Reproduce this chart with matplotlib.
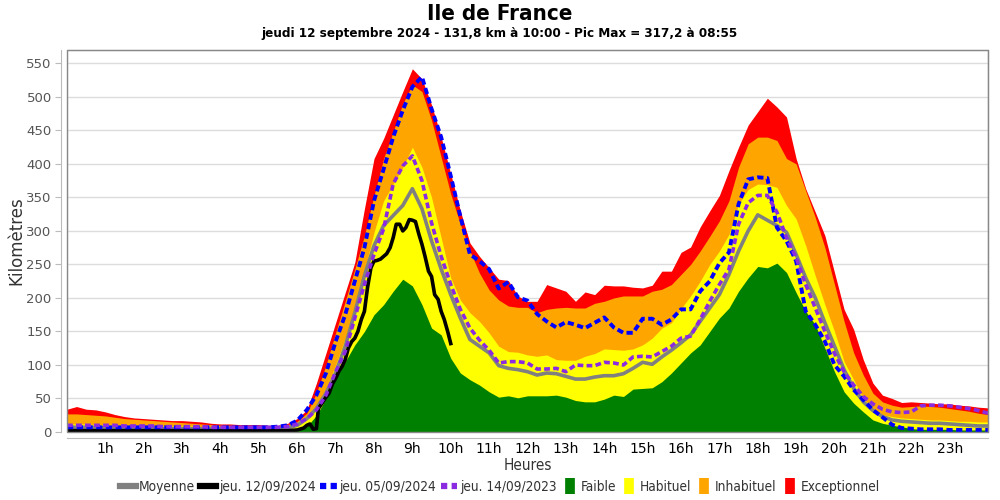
import numpy as np
import matplotlib
matplotlib.use("Agg")
import matplotlib.pyplot as plt
from matplotlib.lines import Line2D
from matplotlib.patches import Rectangle

# quart d'heure de 0h a 24h (97 points)
heures = np.arange(0, 24.25, 0.25)

exceptionnel = [34, 38, 34, 33, 30, 26, 23, 21, 20, 19, 18, 17, 17, 16, 15, 13, 12, 12, 11, 11, 11, 10, 10, 13,
                20, 33, 73, 118, 163, 208, 253, 333, 408, 438, 473, 508, 542, 527, 488, 440, 385, 330, 282, 262, 245, 228, 226, 203,
                195, 195, 220, 215, 210, 195, 209, 205, 219, 218, 218, 216, 215, 219, 240, 240, 268, 276, 306, 330, 353, 390, 425, 458,
                478, 498, 485, 470, 408, 363, 328, 293, 238, 183, 153, 108, 73, 55, 50, 44, 45, 44, 43, 42, 42, 40, 39, 37, 36]
inhabituel = [27, 27, 26, 25, 24, 22, 20, 19, 18, 17, 16, 15, 14, 13, 12, 11, 10, 10, 9, 9, 9, 9, 9, 11,
              16, 28, 58, 100, 148, 195, 243, 293, 353, 408, 448, 490, 518, 508, 465, 410, 355, 310, 270, 237, 212, 197, 188, 186,
              186, 178, 183, 185, 186, 185, 185, 192, 195, 200, 203, 203, 203, 210, 213, 220, 235, 250, 270, 292, 315, 345, 395, 430,
              440, 440, 435, 408, 400, 360, 320, 275, 220, 165, 118, 85, 58, 45, 40, 37, 38, 39, 38, 37, 35, 33, 31, 28, 26]
habituel = [12, 12, 12, 11, 11, 11, 10, 10, 10, 10, 9, 9, 9, 9, 8, 8, 8, 8, 7, 7, 7, 7, 7, 9,
            14, 25, 40, 65, 100, 140, 185, 240, 298, 345, 370, 395, 425, 395, 350, 290, 230, 197, 178, 165, 148, 128, 120, 119,
            115, 113, 115, 108, 107, 107, 113, 117, 124, 123, 122, 124, 130, 140, 155, 163, 184, 203, 225, 250, 270, 295, 340, 362,
            370, 369, 365, 338, 318, 278, 233, 190, 150, 105, 78, 50, 35, 26, 23, 21, 20, 19, 18, 18, 17, 16, 16, 15, 15]
faible = [4, 4, 4, 4, 4, 4, 4, 4, 3, 3, 3, 3, 3, 3, 3, 3, 3, 3, 3, 3, 3, 3, 3, 3,
          3, 8, 25, 50, 80, 105, 130, 150, 175, 190, 210, 228, 218, 190, 155, 145, 110, 88, 78, 70, 60, 52, 54, 51,
          54, 54, 54, 55, 52, 47, 45, 45, 49, 55, 53, 64, 65, 66, 75, 88, 103, 118, 130, 150, 170, 185, 210, 230,
          247, 245, 252, 238, 208, 180, 160, 125, 90, 60, 43, 30, 18, 13, 10, 8, 5, 4, 4, 4, 4, 3, 3, 3, 3]

moyenne = [7, 7, 7, 7, 6, 6, 6, 6, 6, 6, 5, 5, 5, 5, 5, 5, 5, 5, 5, 5, 5, 5, 5, 6,
           10, 20, 35, 58, 88, 128, 178, 233, 278, 308, 323, 338, 363, 333, 285, 243, 205, 170, 138, 128, 118, 99, 95, 93,
           90, 85, 88, 87, 83, 79, 79, 82, 84, 84, 87, 95, 104, 101, 112, 122, 133, 145, 165, 185, 205, 235, 270, 300,
           324, 316, 308, 298, 265, 230, 200, 163, 128, 93, 65, 45, 32, 23, 18, 16, 15, 14, 13, 13, 12, 11, 10, 9, 9]
jeu_05_09_2024 = [7, 7, 7, 7, 7, 7, 7, 7, 7, 7, 7, 7, 7, 7, 7, 7, 7, 7, 7, 7, 7, 7, 8, 10,
                  17, 33, 55, 88, 135, 175, 225, 275, 345, 392, 440, 480, 515, 530, 482, 440, 382, 322, 265, 255, 243, 214, 224, 201,
                  196, 176, 165, 156, 164, 160, 155, 163, 171, 156, 148, 148, 169, 169, 160, 168, 183, 183, 210, 225, 252, 268, 340, 377,
                  380, 379, 305, 285, 255, 180, 160, 135, 100, 83, 63, 48, 33, 22, 11, 6, 5, 4, 4, 4, 3, 3, 3, 3, 3]
jeu_14_09_2023 = [10, 10, 10, 10, 10, 10, 9, 9, 9, 9, 8, 8, 8, 8, 8, 7, 7, 7, 7, 7, 7, 7, 7, 8,
                  12, 20, 33, 55, 90, 120, 170, 220, 265, 303, 370, 397, 412, 375, 312, 262, 220, 183, 155, 137, 122, 103, 105, 105,
                  103, 94, 94, 95, 90, 100, 99, 99, 104, 103, 100, 112, 113, 112, 120, 128, 140, 143, 168, 195, 220, 243, 310, 342,
                  353, 353, 328, 290, 260, 220, 185, 150, 117, 90, 70, 53, 42, 34, 30, 29, 30, 39, 40, 40, 39, 37, 35, 32, 28]

# journee en cours (jusqu'a 10h)
heures_jour = [0, 1, 2, 3, 4, 5, 5.5, 5.75, 6.0, 6.17, 6.25, 6.33, 6.42, 6.5, 6.55, 6.67, 6.75, 6.83, 6.92,
               7.0, 7.08, 7.17, 7.25, 7.33, 7.42, 7.5, 7.58, 7.67, 7.75, 7.83, 7.92, 8.0, 8.08, 8.17, 8.25,
               8.33, 8.42, 8.5, 8.58, 8.67, 8.75, 8.83, 8.92, 9.0, 9.08, 9.17, 9.25, 9.33, 9.42, 9.5, 9.58,
               9.67, 9.75, 9.83, 9.92, 10.0]
jeu_12_09_2024 = [2, 2, 2, 2, 2, 2, 2, 2, 3, 6, 10, 12, 4, 5, 35, 45, 52, 58, 72,
                  80, 90, 98, 108, 125, 135, 140, 150, 168, 180, 215, 245, 255, 256, 258, 262,
                  266, 275, 290, 310, 310, 300, 305, 317, 316, 314, 295, 280, 262, 240, 232, 205,
                  198, 180, 168, 150, 132]

tick_heures = list(range(1, 24))
tick_labels = [f"{h}h" for h in tick_heures]

cond = dict(family="DejaVu Sans", stretch="condensed")

fig = plt.figure(figsize=(10, 5), dpi=100)
ax = fig.add_axes([0.067, 0.136, 0.921, 0.764])

ax.fill_between(heures, 0, exceptionnel, color="#ff0000", lw=0)
ax.fill_between(heures, 0, inhabituel, color="#ffa500", lw=0)
ax.fill_between(heures, 0, habituel, color="#ffff00", lw=0)
ax.fill_between(heures, 0, faible, color="#008000", lw=0)

ax.plot(heures, moyenne, color="#808080", lw=2.6)
ax.plot(heures_jour, jeu_12_09_2024, color="black", lw=2.6)
ax.plot(heures, jeu_05_09_2024, color="#0000ff", lw=2.8, dashes=(1.6, 0.9))
ax.plot(heures, jeu_14_09_2023, color="#8a2be2", lw=2.6, dashes=(1.6, 0.9))

ax.set_xlim(0, 24)
ax.set_ylim(0, 570)
ax.set_yticks(range(0, 551, 50))
ax.set_xticks(tick_heures)
ax.set_xticklabels(tick_labels, fontsize=9, **cond)
ax.tick_params(axis="y", labelsize=9.5, labelcolor="#555555", color="#bbbbbb", length=4, pad=3)
ax.tick_params(axis="x", length=0, pad=3)
ax.set_xticks(range(0, 25), minor=True)
ax.tick_params(axis="x", which="minor", length=0)
ax.grid(True, which="minor", axis="x", color="#dcdcdc", lw=1)
ax.grid(True, which="major", axis="y", color="#dcdcdc", lw=1)
ax.set_axisbelow(True)

for s in ["top", "right"]:
    ax.spines[s].set_color("#888888")
for s in ["left", "bottom"]:
    ax.spines[s].set_position(("outward", 4))
    ax.spines[s].set_color("#bbbbbb")
ax.add_patch(Rectangle((0, 0), 1, 1, transform=ax.transAxes, fill=False,
                       edgecolor="#888888", lw=1, zorder=5, clip_on=False))

ax.set_xlabel("Heures", fontsize=11, color="#333333", labelpad=2, **cond)
ax.set_ylabel("Kilomètres", fontsize=12, color="#333333")
ax.yaxis.set_label_coords(-0.045, 0.5)

fig.text(0.5, 0.973, "Ile de France", ha="center", va="center", fontsize=16,
         fontweight="bold", **cond)
fig.text(0.5, 0.933, "jeudi 12 septembre 2024 - 131,8 km à 10:00 - Pic Max = 317,2 à 08:55",
         ha="center", va="center", fontsize=9.6, fontweight="bold", **cond)

handles = [
    Line2D([], [], color="#808080", lw=4.5),
    Line2D([], [], color="black", lw=4.5),
    Line2D([], [], color="#0000ff", lw=4.5, dashes=(1, 0.7)),
    Line2D([], [], color="#8a2be2", lw=4.5, dashes=(1, 0.7)),
    Line2D([], [], ls="", marker="|", ms=12, mew=7, color="#008000"),
    Line2D([], [], ls="", marker="|", ms=12, mew=7, color="#ffff00"),
    Line2D([], [], ls="", marker="|", ms=12, mew=7, color="#ffa500"),
    Line2D([], [], ls="", marker="|", ms=12, mew=7, color="#ff0000"),
]
labels = ["Moyenne", "jeu. 12/09/2024", "jeu. 05/09/2024", "jeu. 14/09/2023",
          "Faible", "Habituel", "Inhabituel", "Exceptionnel"]
fig.legend(handles, labels, loc="center", bbox_to_anchor=(0.5, 0.026), ncol=8,
           frameon=False, handlelength=1.2, handletextpad=0.2,
           columnspacing=0.35, prop=dict(size=9.8, **cond), labelcolor="#333333")

fig.savefig("out.png", dpi=100)
